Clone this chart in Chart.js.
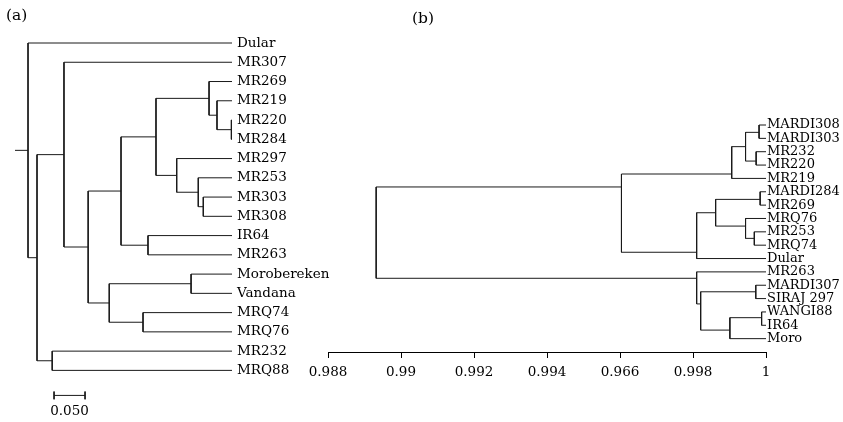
<!DOCTYPE html>
<html>
<head>
<meta charset="utf-8">
<script src="https://cdn.jsdelivr.net/npm/chart.js@4.4.1/dist/chart.umd.min.js"></script>
<style>
  body { margin: 0; background: #fff; }
  #wrap { position: relative; width: 843px; height: 422px; overflow: hidden; font-family: "DejaVu Serif", serif; }
  canvas { position: absolute; top: 0; }
  #pa { left: 0; }
  #pb { left: 300px; }
  .tag { position: absolute; font-size: 15.5px; color: #000; }
</style>
</head>
<body>
<div id="wrap">
  <canvas id="pa" width="340" height="422"></canvas>
  <canvas id="pb" width="543" height="422"></canvas>
  <div class="tag" style="left:6px; top:6px;">(a)</div>
  <div class="tag" style="left:412px; top:9px;">(b)</div>
</div>
<script>
// (a) leaves, top to bottom
const leavesA = ["Dular", "MR307", "MR269", "MR219", "MR220", "MR284", "MR297", "MR253",
  "MR303", "MR308", "IR64", "MR263", "Morobereken", "Vandana", "MRQ74", "MRQ76", "MR232", "MRQ88"];

// (a) merges: [node, child1, child2, branch height]
const nodesA = [
  ["n9", "MR220", "MR284", 0.001],
  ["n8", "MR219", "n9", 0.0242],
  ["n6", "MR269", "n8", 0.037],
  ["n11", "MR303", "MR308", 0.0463],
  ["n10", "MR253", "n11", 0.0544],
  ["n7", "MR297", "n10", 0.0892],
  ["n5", "n6", "n7", 0.1226],
  ["nIR", "IR64", "MR263", 0.1355],
  ["n4", "n5", "nIR", 0.179],
  ["n12", "Morobereken", "Vandana", 0.066],
  ["n13", "MRQ74", "MRQ76", 0.1435],
  ["nMo", "n12", "n13", 0.198],
  ["n3", "n4", "nMo", 0.232],
  ["n2", "MR307", "n3", 0.271],
  ["n14", "MR232", "MRQ88", 0.29],
  ["n1", "n2", "n14", 0.3145],
  ["root", "Dular", "n1", 0.329],
];
const rootStubA = 0.35;
const scaleBarStart = 0.287;
const scaleBarLen = 0.05;
const scaleBarLabel = "0.050";

// (b) leaves, top to bottom
const leavesB = ["MARDI308", "MARDI303", "MR232", "MR220", "MR219", "MARDI284", "MR269", "MRQ76",
  "MR253", "MRQ74", "Dular", "MR263", "MARDI307", "SIRAJ 297", "WANGI88", "IR64", "Moro"];

// (b) merges: [node, child1, child2, similarity, row where the branch joins its parent]
const nodesB = [
  ["p308", "MARDI308", "MARDI303", 0.99981, 0.55],
  ["p232", "MR232", "MR220", 0.99973, 2.7],
  ["a1a", "p308", "p232", 0.99944, 1.62],
  ["a1", "a1a", "MR219", 0.99906, 3.67],
  ["p284", "MARDI284", "MR269", 0.99984, 5.57],
  ["p253", "MR253", "MRQ74", 0.99968, 8.49],
  ["a2b", "MRQ76", "p253", 0.99944, 7.57],
  ["a2a", "p284", "a2b", 0.99862, 6.57],
  ["a2", "a2a", "Dular", 0.9981, 9.53],
  ["a", "a1", "a2", 0.99604, 4.64],
  ["p307", "MARDI307", "SIRAJ 297", 0.99972, 12.49],
  ["pw", "WANGI88", "IR64", 0.99988, 14.43],
  ["b2", "pw", "Moro", 0.99901, 15.36],
  ["b1", "p307", "b2", 0.99821, 13.4],
  ["b", "MR263", "b1", 0.9981, 11.48],
  ["root", "a", "b", 0.98932, null],
];
const tickValsB = [0.988, 0.99, 0.992, 0.994, 0.996, 0.998, 1];
const tickLabelsB = ["0.988", "0.99", "0.992", "0.994", "0.966", "0.998", "1"];

const FONT = { family: "'DejaVu Serif', serif", size: 13.5 };
const INK = "#1a1a1a";

// turn merges into elbow polylines separated by gaps
function buildSegments(leaves, nodes, leafHeight) {
  const pos = {};
  leaves.forEach((name, i) => { pos[name] = { h: leafHeight, row: i }; });
  const pts = [];
  nodes.forEach(([name, c1, c2, h, row]) => {
    const a = pos[c1], b = pos[c2];
    pts.push({ x: a.h, y: a.row }, { x: h, y: a.row }, { x: h, y: b.row }, { x: b.h, y: b.row }, { x: h, y: null });
    pos[name] = { h, row: row ?? (a.row + b.row) / 2 };
  });
  return { pts, pos };
}

function lineDataset(pts) {
  return {
    data: pts,
    showLine: true,
    spanGaps: false,
    pointRadius: 0,
    borderColor: INK,
    borderWidth: 1,
    clip: false,
  };
}

// ---- panel (a)
const treeA = buildSegments(leavesA, nodesA, 0);
const rootA = treeA.pos.root;
treeA.pts.push({ x: rootA.h, y: rootA.row }, { x: rootStubA, y: rootA.row }, { x: 0, y: null });

const scaleRow = 18.3;
const scalePts = [
  { x: scaleBarStart, y: scaleRow - 0.2 }, { x: scaleBarStart, y: scaleRow + 0.2 }, { x: 0, y: null },
  { x: scaleBarStart, y: scaleRow }, { x: scaleBarStart - scaleBarLen, y: scaleRow }, { x: 0, y: null },
  { x: scaleBarStart - scaleBarLen, y: scaleRow - 0.2 }, { x: scaleBarStart - scaleBarLen, y: scaleRow + 0.2 },
];

const scaleLabelPlugin = {
  id: "scaleLabel",
  afterDraw(chart) {
    const { ctx, scales } = chart;
    const x = (scales.x.getPixelForValue(scaleBarStart) + scales.x.getPixelForValue(scaleBarStart - scaleBarLen)) / 2;
    const y = scales.y.getPixelForValue(scaleRow) + 16;
    ctx.save();
    ctx.font = `${FONT.size}px ${FONT.family}`;
    ctx.fillStyle = "#000";
    ctx.textAlign = "center";
    ctx.textBaseline = "middle";
    ctx.fillText(scaleBarLabel, x, y);
    ctx.restore();
  },
};

new Chart(document.getElementById("pa"), {
  type: "scatter",
  data: { datasets: [lineDataset(treeA.pts), lineDataset(scalePts)] },
  options: {
    responsive: false,
    animation: false,
    devicePixelRatio: 1,
    layout: { padding: { left: 15, top: 43, bottom: 11.35, right: 0 } },
    plugins: { legend: { display: false }, tooltip: { enabled: false } },
    scales: {
      x: { type: "linear", min: 0, max: 0.35, reverse: true, display: false },
      y: {
        type: "linear",
        position: "right",
        min: 0,
        max: 19,
        reverse: true,
        afterFit: (s) => { s.width = 108; },
        afterBuildTicks: (s) => { s.ticks = leavesA.map((_, i) => ({ value: i })); },
        grid: { display: false, drawTicks: false },
        border: { display: false },
        ticks: { autoSkip: false, padding: 5, color: "#000", font: FONT, callback: (v, i) => leavesA[i] },
      },
    },
  },
  plugins: [scaleLabelPlugin],
});

// ---- panel (b)
const treeB = buildSegments(leavesB, nodesB, 1);

new Chart(document.getElementById("pb"), {
  type: "scatter",
  data: { datasets: [lineDataset(treeB.pts)] },
  options: {
    responsive: false,
    animation: false,
    devicePixelRatio: 1,
    layout: { padding: { left: 28, top: 44.9, bottom: 0, right: 0 } },
    plugins: { legend: { display: false }, tooltip: { enabled: false } },
    scales: {
      x: {
        type: "linear",
        min: 0.988,
        max: 1,
        afterFit: (s) => { s.height = 70; },
        afterBuildTicks: (s) => { s.ticks = tickValsB.map((v) => ({ value: v })); },
        grid: { drawOnChartArea: false, drawTicks: true, tickLength: 6, color: "#000" },
        border: { display: true, color: "#000" },
        ticks: { padding: 6, color: "#000", font: FONT, autoSkip: false, maxRotation: 0, callback: (v, i) => tickLabelsB[i] },
      },
      y: {
        type: "linear",
        position: "right",
        min: -6,
        max: 17,
        reverse: true,
        afterFit: (s) => { s.width = 77; },
        afterBuildTicks: (s) => { s.ticks = leavesB.map((_, i) => ({ value: i })); },
        grid: { display: false, drawTicks: false },
        border: { display: false },
        ticks: { autoSkip: false, padding: 1, color: "#000", font: { family: FONT.family, size: 13 }, callback: (v, i) => leavesB[i] },
      },
    },
  },
});
</script>
</body>
</html>
